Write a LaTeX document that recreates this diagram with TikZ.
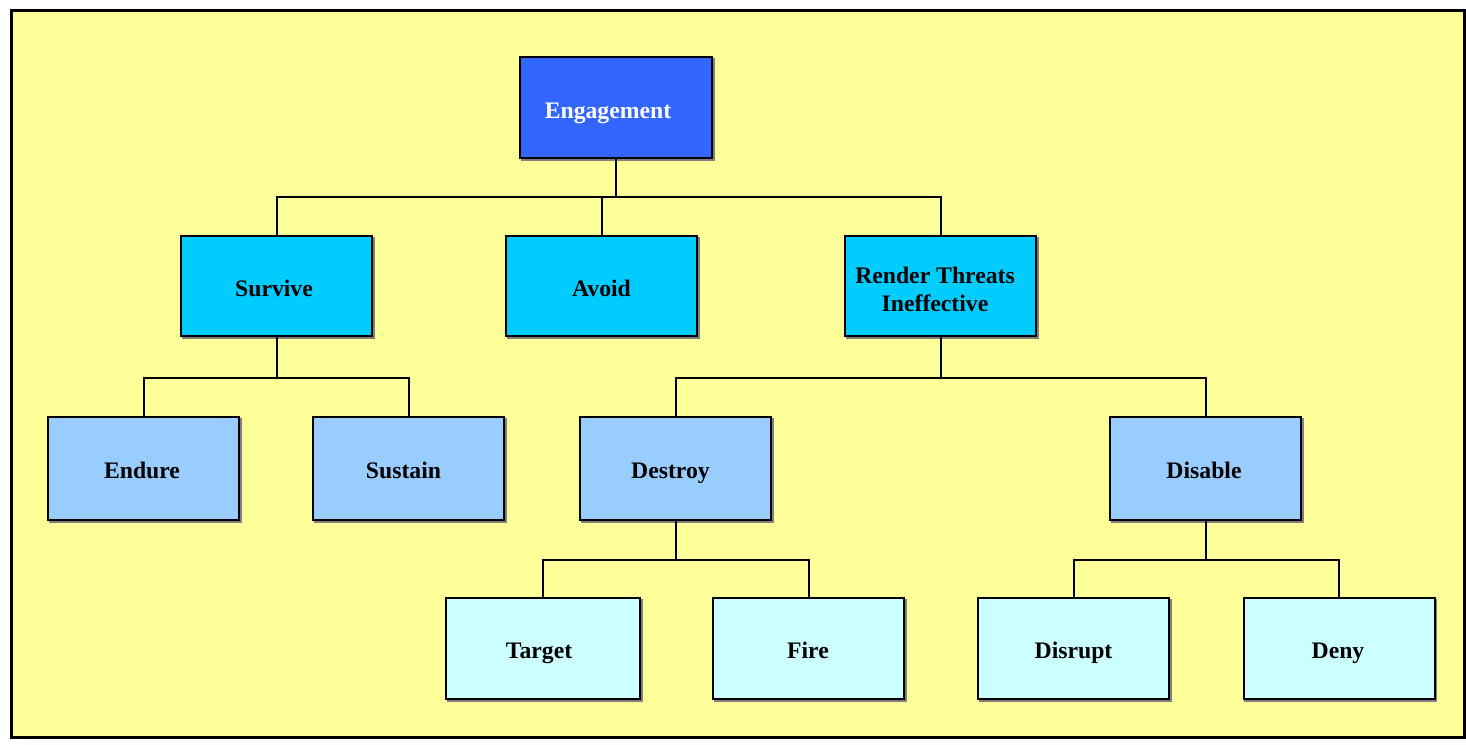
\documentclass[tikz,border=0pt]{standalone}
\usepackage{fontspec}
\setmainfont{Liberation Serif}
\definecolor{panel}{HTML}{FFFF99}
\definecolor{rootfill}{HTML}{3366FF}
\definecolor{lvltwo}{HTML}{00CCFF}
\definecolor{lvlthree}{HTML}{99CCFF}
\definecolor{lvlfour}{HTML}{CCFFFF}
\definecolor{shade}{HTML}{808080}
\begin{document}
\begin{tikzpicture}[x=0.5pt,y=-0.5pt,
  box/.style={draw=black, line width=1pt, minimum width=95.5pt, minimum height=50pt,
    inner sep=0pt,
    preaction={draw=shade, fill=shade, transform canvas={xshift=0.8pt,yshift=-0.8pt}}},
  root/.style={box, fill=rootfill, minimum width=96pt, minimum height=50.5pt},
  second/.style={box, fill=lvltwo},
  third/.style={box, fill=lvlthree, minimum height=51.5pt},
  fourth/.style={box, fill=lvlfour, minimum height=50.5pt},
  lbl/.style={inner sep=0pt, anchor=base, align=center,
    font=\fontsize{11.85}{14}\selectfont\bfseries},
  link/.style={draw=black, line width=1pt}]
\useasboundingbox (0,0) rectangle (1466,744);
% drop shadow and panel
\begin{scope}
  \clip (0,0) rectangle (1466,744);
  \fill[shade] (25,25) rectangle (1490,760);
\end{scope}
\draw[line width=1.5pt, fill=panel] (11,10) rectangle (1464,737);

% boxes
\node[root]   (eng) at (616,107.5) {};
\node[second] (sur) at (276.5,286) {};
\node[second] (avo) at (601.5,286) {};
\node[second] (ren) at (940.5,286) {};
\node[third]  (end) at (143.5,468.5) {};
\node[third]  (sus) at (408.5,468.5) {};
\node[third]  (des) at (675.5,468.5) {};
\node[third]  (dis) at (1205.5,468.5) {};
\node[fourth, minimum width=97pt] (tar) at (543,648.5) {};
\node[fourth] (fir) at (808.5,648.5) {};
\node[fourth] (dru) at (1073.5,648.5) {};
\node[fourth] (den) at (1339,648.5) {};

% captions (baseline just below each box centre)
\node[lbl, text=white] (eng-t) at ([shift={(-8,10.5)}]eng.center) {Engagement};
\node[lbl] (sur-t) at ([shift={(-2.5,10.5)}]sur.center) {Survive};
\node[lbl] (avo-t) at ([shift={(0,10.5)}]avo.center) {Avoid};
\node[lbl, anchor=center] (ren-t) at ([shift={(-5.5,3)}]ren.center) {Render Threats\\Ineffective};
\node[lbl] (end-t) at ([shift={(-1.5,9.5)}]end.center) {Endure};
\node[lbl] (sus-t) at ([shift={(-5,9.5)}]sus.center) {Sustain};
\node[lbl] (des-t) at ([shift={(-5,9.5)}]des.center) {Destroy};
\node[lbl] (dis-t) at ([shift={(-1.5,9.5)}]dis.center) {Disable};
\node[lbl] (tar-t) at ([shift={(-4,9.5)}]tar.center) {Target};
\node[lbl] (fir-t) at ([shift={(-0.5,9.5)}]fir.center) {Fire};
\node[lbl] (dru-t) at ([shift={(0,9.5)}]dru.center) {Disrupt};
\node[lbl] (den-t) at ([shift={(-1,9.5)}]den.center) {Deny};

% connectors
\coordinate (bA) at (0,197);
\coordinate (bB) at (0,378);
\coordinate (bC) at (0,560);
\draw[link] (eng.south) -- (eng.south |- bA);
\draw[link] (sur.north) |- (eng.south |- bA) -| (ren.north);
\draw[link] (avo.north) -- (avo.north |- bA);

\draw[link] (sur.south) -- (sur.south |- bB);
\draw[link] (end.north) |- (sur.south |- bB) -| (sus.north);

\draw[link] (ren.south) -- (ren.south |- bB);
\draw[link] (des.north) |- (ren.south |- bB) -| (dis.north);

\draw[link] (des.south) -- (des.south |- bC);
\draw[link] (tar.north) |- (des.south |- bC) -| (fir.north);

\draw[link] (dis.south) -- (dis.south |- bC);
\draw[link] (dru.north) |- (dis.south |- bC) -| (den.north);
\end{tikzpicture}
\end{document}
